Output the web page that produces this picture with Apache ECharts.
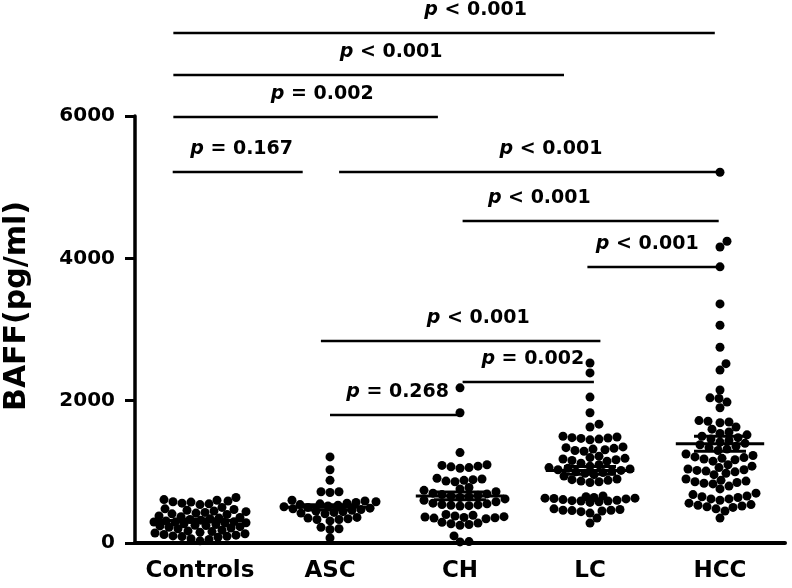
<!DOCTYPE html>
<html><head><meta charset="utf-8">
<script src="https://cdn.jsdelivr.net/npm/echarts/dist/echarts.min.js"></script>
<style>html,body{margin:0;padding:0;background:#fff}#c{width:792px;height:588px}</style>
</head><body><div id="c"></div>
<script>
// ---------------- data ----------------
const categories = ['Controls', 'ASC', 'CH', 'LC', 'HCC'];
const controls = [640, 610, 600, 590, 580, 575, 560, 550, 540, 500, 480, 470, 460, 450, 440, 430, 420, 410, 400,
  380, 370, 360, 350, 340, 330, 320, 310, 300, 295, 290, 285, 280, 270, 260, 250, 245, 240, 230, 220, 210, 200,
  180, 170, 160, 150, 140, 130, 120, 110, 100, 95, 90, 80, 60, 50, 30];
const asc = [1210, 1030, 880, 720, 720, 710, 600, 590, 580, 570, 560, 550, 540, 530, 520, 510, 500, 490, 480, 470,
  460, 450, 440, 430, 420, 410, 360, 350, 340, 330, 330, 310, 220, 200, 190, 70];
const ch = [2180, 1830, 1270, 1100, 1090, 1080, 1070, 1060, 1050, 910, 900, 890, 880, 870, 860, 780, 760, 740, 720,
  700, 690, 680, 670, 660, 650, 640, 620, 600, 580, 560, 550, 540, 535, 530, 525, 520, 400, 390, 380, 370, 365, 360,
  355, 350, 340, 290, 280, 270, 260, 250, 100, 20, 15];
const lc = [2530, 2390, 2050, 1830, 1670, 1630, 1500, 1490, 1480, 1475, 1470, 1460, 1450, 1350, 1340, 1330, 1320,
  1310, 1300, 1290, 1220, 1200, 1190, 1180, 1170, 1160, 1150, 1120, 1100, 1080, 1060, 1050, 1040, 1030, 1020, 1010,
  1000, 990, 980, 960, 940, 900, 890, 880, 870, 860, 850, 660, 650, 640, 630, 630, 625, 620, 610, 600, 595, 590, 590,
  580, 570, 480, 470, 460, 460, 455, 450, 440, 420, 350, 280];
const hcc = [5210, 4240, 4160, 3880, 3360, 3060, 2750, 2520, 2430, 2150, 2040, 2030, 1980, 1900, 1720, 1710, 1700,
  1690, 1630, 1600, 1560, 1540, 1520, 1500, 1480, 1460, 1440, 1420, 1400, 1380, 1360, 1340, 1320, 1300, 1250, 1230,
  1210, 1200, 1190, 1180, 1170, 1150, 1100, 1080, 1060, 1040, 1030, 1020, 1010, 1000, 980, 960, 900, 880, 870, 860,
  850, 840, 830, 800, 760, 700, 680, 660, 650, 640, 620, 620, 600, 560, 540, 530, 520, 510, 500, 480, 450, 350];
const groups = [controls, asc, ch, lc, hcc];
const yTicks = [0, 2000, 4000, 6000];

// significance brackets (x in group units: 1 = Controls ... 5 = HCC; y in pg/ml)
const bracketFrom   = [0.795, 0.795, 0.795, 0.79, 2.07, 3.02, 3.98, 1.93, 3.02, 2.00];
const bracketTo     = [4.96, 3.80, 2.83, 1.79, 5.00, 4.99, 5.00, 4.08, 4.03, 3.02];
const bracketY      = [7166, 6576, 5986, 5213, 5213, 4525, 3878, 2839, 2262, 1799];
const bracketLabelX = [3.12, 2.47, 1.94, 1.32, 3.70, 3.61, 4.44, 3.14, 3.56, 2.52];
const bracketText   = ['< 0.001', '< 0.001', '= 0.002', '= 0.167', '< 0.001', '< 0.001', '< 0.001', '< 0.001', '= 0.002', '= 0.268'];

// ---------------- layout ----------------
const FONT = '"DejaVu Sans", sans-serif';
const GRID_LEFT = 135, GRID_TOP = 116, GRID_W = 650, GRID_H = 427;
const Y_MAX = 6000, Y_OVER = 7600;
const OVER_H = GRID_H * Y_OVER / Y_MAX;
const OVER_TOP = GRID_TOP + GRID_H - OVER_H;
const pxPerX = GRID_W / 5, pxPerY = GRID_H / Y_MAX;
const DOT = 9, COLL = 8.5, HALF_W = 46;

function swarm(values, center) {
  const sorted = values.slice().sort((a, b) => a - b);
  const placed = [];
  const out = [];
  for (const v of sorted) {
    const py = v * pxPerY;
    let best = 0, bestScore = -1;
    for (let k = 0; k <= 2 * HALF_W; k++) {
      const off = k === 0 ? 0 : (k % 2 ? (k + 1) / 2 : -k / 2);
      let md = Infinity;
      for (const p of placed) {
        const dy = p[1] - py;
        if (Math.abs(dy) >= COLL) continue;
        const d = Math.hypot(p[0] - off, dy);
        if (d < md) md = d;
      }
      if (md >= COLL) { best = off; bestScore = Infinity; break; }
      if (md > bestScore) { bestScore = md; best = off; }
    }
    placed.push([best, py]);
    out.push([center + best / pxPerX, v]);
  }
  return out;
}

function stats(a) {
  const n = a.length;
  const m = a.reduce((s, v) => s + v, 0) / n;
  const sd = Math.sqrt(a.reduce((s, v) => s + (v - m) * (v - m), 0) / (n - 1));
  return [m, sd / Math.sqrt(n)];
}

const scatterData = [];
groups.forEach((g, i) => swarm(g, i + 1).forEach(p => scatterData.push(p)));
const meanData = groups.map((g, i) => { const s = stats(g); return [i + 1, s[0], s[1]]; });
const bracketData = bracketY.map((y, i) => [bracketFrom[i], bracketTo[i], y, bracketLabelX[i]]);

const chart = echarts.init(document.getElementById('c'), null, { renderer: 'canvas' });
chart.setOption({
  animation: false,
  backgroundColor: '#fff',
  grid: [
    { left: GRID_LEFT, top: GRID_TOP, width: GRID_W, height: GRID_H },
    { left: GRID_LEFT, top: OVER_TOP, width: GRID_W, height: OVER_H }
  ],
  xAxis: [
    {
      type: 'category', gridIndex: 0, data: categories, boundaryGap: true,
      axisLine: { lineStyle: { color: '#000', width: 4 } },
      axisTick: { alignWithLabel: true, interval: 0, length: 10, lineStyle: { color: '#000', width: 3 } },
      axisLabel: { interval: 0, color: '#000', fontFamily: FONT, fontWeight: 'bold', fontSize: 23, margin: 17 },
      splitLine: { show: false }
    },
    { type: 'value', gridIndex: 0, min: 0.5, max: 5.5, show: false },
    { type: 'value', gridIndex: 1, min: 0.5, max: 5.5, show: false }
  ],
  yAxis: [
    {
      type: 'value', gridIndex: 0, min: 0, max: Y_MAX, interval: 2000,
      axisLine: { show: true, lineStyle: { color: '#000', width: 3.5 } },
      axisTick: { show: true, length: 10, lineStyle: { color: '#000', width: 3 } },
      axisLabel: { color: '#000', fontFamily: FONT, fontWeight: 'bold', fontSize: 20, margin: 20,
        formatter: v => yTicks.includes(v) ? String(v) : '' },
      splitLine: { show: false }
    },
    { type: 'value', gridIndex: 1, min: 0, max: Y_OVER, show: false }
  ],
  graphic: [{
    type: 'text', x: 17, y: 306, rotation: Math.PI / 2,
    style: { text: 'BAFF(pg/ml)', fontFamily: FONT, fontWeight: 'bold', fontSize: 30, fill: '#000',
      align: 'center', verticalAlign: 'middle' }
  }],
  series: [
    {
      type: 'scatter', xAxisIndex: 1, yAxisIndex: 0, data: scatterData,
      symbol: 'circle', symbolSize: DOT, itemStyle: { color: '#000', opacity: 1 }, silent: true
    },
    {
      type: 'custom', xAxisIndex: 1, yAxisIndex: 0, data: meanData, silent: true, z: 5,
      renderItem: (params, api) => {
        const x = api.value(0), m = api.value(1), s = api.value(2);
        const ml = api.coord([x - 0.34, m]), mr = api.coord([x + 0.34, m]);
        const tl = api.coord([x - 0.2, m + s]), tr = api.coord([x + 0.2, m + s]);
        const bl = api.coord([x - 0.2, m - s]), br = api.coord([x + 0.2, m - s]);
        const st = { stroke: '#000', lineWidth: 3 };
        return { type: 'group', children: [
          { type: 'line', shape: { x1: ml[0], y1: ml[1], x2: mr[0], y2: mr[1] }, style: st },
          { type: 'line', shape: { x1: tl[0], y1: tl[1], x2: tr[0], y2: tr[1] }, style: st },
          { type: 'line', shape: { x1: bl[0], y1: bl[1], x2: br[0], y2: br[1] }, style: st },
          { type: 'line', shape: { x1: (tl[0] + tr[0]) / 2, y1: tl[1], x2: (bl[0] + br[0]) / 2, y2: bl[1] }, style: st }
        ] };
      }
    },
    {
      type: 'custom', xAxisIndex: 2, yAxisIndex: 1, data: bracketData, silent: true, z: 6,
      renderItem: (params, api) => {
        const a = api.coord([api.value(0), api.value(2)]);
        const b = api.coord([api.value(1), api.value(2)]);
        const t = api.coord([api.value(3), api.value(2)]);
        return { type: 'group', children: [
          { type: 'line', shape: { x1: a[0], y1: a[1], x2: b[0], y2: b[1] }, style: { stroke: '#000', lineWidth: 2.5 } },
          { type: 'text', x: t[0], y: t[1] - 23,
            style: {
              text: '{i|p} {n|' + bracketText[params.dataIndex] + '}',
              align: 'center', verticalAlign: 'middle', fill: '#000',
              fontFamily: FONT, fontWeight: 'bold', fontSize: 19,
              rich: {
                i: { fontFamily: FONT, fontWeight: 'bold', fontStyle: 'italic', fontSize: 19, fill: '#000' },
                n: { fontFamily: FONT, fontWeight: 'bold', fontSize: 19, fill: '#000' }
              }
            } }
        ] };
      }
    }
  ]
});
</script></body></html>
